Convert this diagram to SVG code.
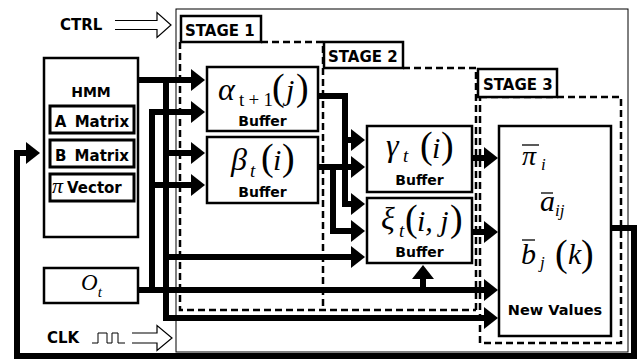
<svg xmlns="http://www.w3.org/2000/svg" width="640" height="360" viewBox="0 0 640 360">
<style>
.lbl{font-family:"DejaVu Sans","Liberation Sans",sans-serif;font-weight:bold;fill:#000}
.m{font-family:"Liberation Serif","DejaVu Serif",serif;fill:#000}
.i{font-style:italic}
.box{fill:#fff;stroke:#000;stroke-width:2.5}
.sub{fill:#fff;stroke:#000;stroke-width:3}
.stg{fill:none;stroke:#000;stroke-width:2.5;stroke-dasharray:7 4}
.tag{fill:#fff;stroke:#000;stroke-width:2.5}
.w{fill:none;stroke:#000;stroke-width:6;stroke-linejoin:miter}
.thin{fill:none;stroke:#000;stroke-width:1}
.hol{fill:#fff;stroke:#000;stroke-width:1.2}
.bar{stroke:#000;stroke-width:1.3}
</style>
<defs>
<marker id="ah" markerUnits="userSpaceOnUse" markerWidth="14" markerHeight="22" refX="0" refY="11" orient="auto" viewBox="0 0 14 22"><path d="M0,0 L14,11 L0,22 z" fill="#000"/></marker>
</defs>
<rect width="640" height="360" fill="#fff"/>

<g id="frame">
<rect class="thin" x="176" y="9" width="452" height="343"/>
</g>

<g id="stages">
<path class="stg" d="M180,42 V310 H476"/>
<path class="stg" d="M261,42 H323 V310"/>
<path class="stg" d="M403,68 H476 V310"/>
<rect class="stg" x="480" y="97" width="141" height="246"/>
<rect class="tag" x="181" y="16" width="80" height="26"/>
<text class="lbl" x="185" y="36" font-size="15">STAGE 1</text>
<rect class="tag" x="324" y="42" width="79" height="26"/>
<text class="lbl" x="328" y="62" font-size="15">STAGE 2</text>
<rect class="tag" x="478" y="69" width="79" height="28"/>
<text class="lbl" x="483" y="90" font-size="15">STAGE 3</text>
</g>

<g id="ctrl">
<text class="lbl" x="60" y="30" font-size="15">CTRL</text>
<path class="hol" d="M115,20.5 H157 V12.5 L171,25 L157,37.5 V29.5 H115"/>
</g>
<g id="clk">
<text class="lbl" x="47" y="343" font-size="15">CLK</text>
<polyline class="thin" stroke-width="1.6" points="92,343 98,343 98,333 107,333 107,343 112,343 112,333 118,333 118,343 125,343"/>
<path class="hol" d="M132,333 H157 V325.5 L172,338 L157,350.5 V343 H132"/>
</g>

<g id="connectors">
<path class="w" d="M138,80 H191" marker-end="url(#ah)"/>
<path class="w" d="M166,80 V318 H484" marker-end="url(#ah)"/>
<path class="w" d="M166,153 H191" marker-end="url(#ah)"/>
<path class="w" d="M166,257 H351" marker-end="url(#ah)"/>
<path class="w" d="M152,290 V112 H191" marker-end="url(#ah)"/>
<path class="w" d="M152,185 H191" marker-end="url(#ah)"/>
<path class="w" d="M138,290 H484" marker-end="url(#ah)"/>
<path class="w" d="M423,290 V279" marker-end="url(#ah)"/>
<path class="w" d="M318,96 H345 V204 H351" marker-end="url(#ah)"/>
<path class="w" d="M345,140 H351" marker-end="url(#ah)"/>
<path class="w" d="M318,167 H351" marker-end="url(#ah)"/>
<path class="w" d="M333,167 V231 H351" marker-end="url(#ah)"/>
<path class="w" d="M472,158 H484" marker-end="url(#ah)"/>
<path class="w" d="M472,232 H484" marker-end="url(#ah)"/>
<path class="w" stroke-width="5" d="M611,228 H634 V356 H17 V153 H26" marker-end="url(#ah)"/>
</g>

<g id="hmm">
<rect class="box" x="44" y="58" width="94" height="179"/>
<text class="lbl" x="91" y="97" font-size="14" text-anchor="middle">HMM</text>
<rect class="sub" x="50" y="106" width="84" height="27"/>
<text class="lbl" x="92" y="127" font-size="15" text-anchor="middle" word-spacing="3">A Matrix</text>
<rect class="sub" x="50" y="140" width="84" height="27"/>
<text class="lbl" x="92" y="161" font-size="15" text-anchor="middle" word-spacing="3">B Matrix</text>
<rect class="sub" x="50" y="174" width="84" height="27"/>
<text x="52" y="193"><tspan class="m i" font-size="22">π</tspan><tspan class="lbl" font-size="15" dx="4">Vector</tspan></text>
</g>

<g id="ot">
<rect class="box" x="44" y="268" width="94" height="35"/>
<text class="m i" x="81" y="290"><tspan font-size="23">O</tspan><tspan font-size="15" dy="7">t</tspan></text>
</g>

<g id="alpha">
<rect class="box" x="207" y="67" width="111" height="64"/>
<text class="m" y="100"><tspan class="i" x="218" font-size="32">α</tspan><tspan x="239" dy="6" font-size="19" textLength="34" lengthAdjust="spacing">t+1</tspan><tspan x="272" dy="-6" font-size="38">(</tspan><tspan class="i" x="286" font-size="30">j</tspan><tspan x="296" font-size="38">)</tspan></text>
<text class="lbl" x="262.5" y="126" font-size="14" text-anchor="middle">Buffer</text>
</g>

<g id="beta">
<rect class="box" x="207" y="137" width="111" height="66"/>
<text class="m" y="170"><tspan class="i" x="231" font-size="32">β</tspan><tspan class="i" x="250" dy="7" font-size="19">t</tspan><tspan x="261" dy="-7" font-size="38">(</tspan><tspan class="i" x="273" font-size="30">i</tspan><tspan x="282" font-size="38">)</tspan></text>
<text class="lbl" x="262.5" y="197" font-size="14" text-anchor="middle">Buffer</text>
</g>

<g id="gamma">
<rect class="box" x="367" y="126" width="105" height="66"/>
<text class="m" y="156"><tspan class="i" x="386" font-size="32">γ</tspan><tspan class="i" x="403" dy="6" font-size="19">t</tspan><tspan x="420" dy="-4" font-size="38">(</tspan><tspan class="i" x="432" font-size="30">i</tspan><tspan x="441" font-size="38">)</tspan></text>
<text class="lbl" x="419.5" y="185" font-size="14" text-anchor="middle">Buffer</text>
</g>

<g id="xi">
<rect class="box" x="367" y="198" width="105" height="65"/>
<text class="m" y="229"><tspan class="i" x="381" font-size="32">ξ</tspan><tspan class="i" x="399" dy="8" font-size="19">t</tspan><tspan x="405" dy="-6" font-size="38">(</tspan><tspan class="i" x="417" font-size="30">i, j</tspan><tspan x="450" font-size="38">)</tspan></text>
<text class="lbl" x="419.5" y="257" font-size="14" text-anchor="middle">Buffer</text>
</g>

<g id="newvalues">
<rect class="box" x="499" y="126" width="112" height="210"/>
<line class="bar" x1="522" y1="145" x2="539" y2="145"/>
<text class="m i" y="165"><tspan x="522" font-size="28">π</tspan><tspan x="541" dy="5" font-size="17">i</tspan></text>
<line class="bar" x1="541" y1="193" x2="553" y2="193"/>
<text class="m i" y="211"><tspan x="540" font-size="30">a</tspan><tspan x="555" dy="5" font-size="17">ij</tspan></text>
<line class="bar" x1="522" y1="240" x2="535" y2="240"/>
<text class="m" y="264"><tspan class="i" x="521" font-size="30">b</tspan><tspan class="i" x="540" dy="4" font-size="17">j</tspan><tspan x="555" dy="-2" font-size="38">(</tspan><tspan class="i" x="568" dy="-2" font-size="30">k</tspan><tspan x="581" dy="2" font-size="38">)</tspan></text>
<text class="lbl" x="555" y="315" font-size="14.5" text-anchor="middle">New Values</text>
</g>
</svg>
